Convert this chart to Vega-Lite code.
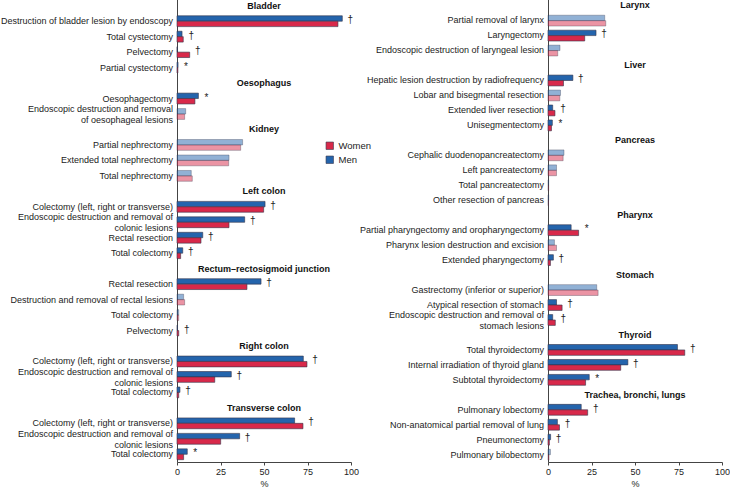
{
  "$schema": "https://vega.github.io/schema/vega-lite/v6.json",
  "padding": {"left": 0, "top": -2, "right": 0, "bottom": 0},
  "config": {
    "view": {"stroke": null},
    "font": "Liberation Sans",
    "axis": {"labelFont": "Liberation Sans", "titleFont": "Liberation Sans", "labelFontSize": 9, "titleFontSize": 9, "titleFontWeight": "normal", "labelColor": "#222", "titleColor": "#222", "domainColor": "#444", "tickColor": "#444", "grid": false, "labelFlush": false},
    "legend": {"labelFont": "Liberation Sans", "labelFontSize": 9.5, "labelColor": "#222"}
  },
  "datasets": {
    "left": [
      {"i": 0, "t": "Bladder"},
      {"i": 1, "lab": "Destruction of bladder lesion by endoscopy", "Men": 95.0, "Women": 92.5, "ns": false, "mk": "†"},
      {"i": 2, "lab": "Total cystectomy", "Men": 2.9, "Women": 3.6, "ns": false, "mk": "†"},
      {"i": 3, "lab": "Pelvectomy", "Men": 0.2, "Women": 7.3, "ns": false, "mk": "†"},
      {"i": 4, "lab": "Partial cystectomy", "Men": 0.6, "Women": 0.5, "ns": false, "mk": "*"},
      {"i": 5, "t": "Oesophagus"},
      {"i": 6, "lab": "Oesophagectomy", "Men": 12.3, "Women": 10.3, "ns": false, "mk": "*"},
      {"i": 7, "lab": "Endoscopic destruction and removal|of oesophageal lesions", "Men": 5.0, "Women": 4.4, "ns": true, "mk": ""},
      {"i": 8, "t": "Kidney"},
      {"i": 9, "lab": "Partial nephrectomy", "Men": 37.7, "Women": 36.6, "ns": true, "mk": ""},
      {"i": 10, "lab": "Extended total nephrectomy", "Men": 29.9, "Women": 29.7, "ns": true, "mk": ""},
      {"i": 11, "lab": "Total nephrectomy", "Men": 8.2, "Women": 8.8, "ns": true, "mk": ""},
      {"i": 12, "t": "Left colon"},
      {"i": 13, "lab": "Colectomy (left, right or transverse)", "Men": 50.6, "Women": 49.8, "ns": false, "mk": "†"},
      {"i": 14, "lab": "Endoscopic destruction and removal of|colonic lesions", "Men": 38.9, "Women": 29.9, "ns": false, "mk": "†"},
      {"i": 15, "lab": "Rectal resection", "Men": 14.8, "Women": 13.8, "ns": false, "mk": "†"},
      {"i": 16, "lab": "Total colectomy", "Men": 3.3, "Women": 2.1, "ns": false, "mk": "†"},
      {"i": 17, "t": "Rectum–rectosigmoid junction"},
      {"i": 18, "lab": "Rectal resection", "Men": 48.3, "Women": 40.2, "ns": false, "mk": "†"},
      {"i": 19, "lab": "Destruction and removal of rectal lesions", "Men": 3.8, "Women": 4.4, "ns": true, "mk": ""},
      {"i": 20, "lab": "Total colectomy", "Men": 1.0, "Women": 1.0, "ns": true, "mk": ""},
      {"i": 21, "lab": "Pelvectomy", "Men": 0.3, "Women": 1.0, "ns": false, "mk": "†"},
      {"i": 22, "t": "Right colon"},
      {"i": 23, "lab": "Colectomy (left, right or transverse)", "Men": 72.6, "Women": 74.7, "ns": false, "mk": "†"},
      {"i": 24, "lab": "Endoscopic destruction and removal of|colonic lesions", "Men": 31.2, "Women": 21.7, "ns": false, "mk": "†"},
      {"i": 25, "lab": "Total colectomy", "Men": 1.7, "Women": 1.0, "ns": false, "mk": "†"},
      {"i": 26, "t": "Transverse colon"},
      {"i": 27, "lab": "Colectomy (left, right or transverse)", "Men": 67.6, "Women": 72.4, "ns": false, "mk": "†"},
      {"i": 28, "lab": "Endoscopic destruction and removal of|colonic lesions", "Men": 36.0, "Women": 25.1, "ns": false, "mk": "†"},
      {"i": 29, "lab": "Total colectomy", "Men": 5.9, "Women": 3.8, "ns": false, "mk": "*"}
    ],
    "right": [
      {"i": 0, "t": "Larynx"},
      {"i": 1, "lab": "Partial removal of larynx", "Men": 32.6, "Women": 33.2, "ns": true, "mk": ""},
      {"i": 2, "lab": "Laryngectomy", "Men": 27.6, "Women": 21.1, "ns": false, "mk": "†"},
      {"i": 3, "lab": "Endoscopic destruction of laryngeal lesion", "Men": 6.9, "Women": 5.6, "ns": true, "mk": ""},
      {"i": 4, "t": "Liver"},
      {"i": 5, "lab": "Hepatic lesion destruction by radiofrequency", "Men": 14.3, "Women": 8.9, "ns": false, "mk": "†"},
      {"i": 6, "lab": "Lobar and bisegmental resection", "Men": 7.2, "Women": 6.8, "ns": true, "mk": ""},
      {"i": 7, "lab": "Extended liver resection", "Men": 2.7, "Women": 4.0, "ns": false, "mk": "†"},
      {"i": 8, "lab": "Unisegmentectomy", "Men": 2.5, "Women": 2.0, "ns": false, "mk": "*"},
      {"i": 9, "t": "Pancreas"},
      {"i": 10, "lab": "Cephalic duodenopancreatectomy", "Men": 9.2, "Women": 8.7, "ns": true, "mk": ""},
      {"i": 11, "lab": "Left pancreatectomy", "Men": 4.9, "Women": 4.9, "ns": true, "mk": ""},
      {"i": 12, "lab": "Total pancreatectomy", "Men": 0.4, "Women": 0.4, "ns": true, "mk": ""},
      {"i": 13, "lab": "Other resection of pancreas", "Men": 0.4, "Women": 0.3, "ns": true, "mk": ""},
      {"i": 14, "t": "Pharynx"},
      {"i": 15, "lab": "Partial pharyngectomy and oropharyngectomy", "Men": 13.3, "Women": 17.6, "ns": false, "mk": "*"},
      {"i": 16, "lab": "Pharynx lesion destruction and excision", "Men": 3.7, "Women": 4.9, "ns": true, "mk": ""},
      {"i": 17, "lab": "Extended pharyngectomy", "Men": 3.1, "Women": 1.4, "ns": false, "mk": "†"},
      {"i": 18, "t": "Stomach"},
      {"i": 19, "lab": "Gastrectomy (inferior or superior)", "Men": 28.0, "Women": 28.8, "ns": true, "mk": ""},
      {"i": 20, "lab": "Atypical resection of stomach", "Men": 4.9, "Women": 8.1, "ns": false, "mk": "†"},
      {"i": 21, "lab": "Endoscopic destruction and removal of|stomach lesions", "Men": 2.7, "Women": 4.2, "ns": false, "mk": "†"},
      {"i": 22, "t": "Thyroid"},
      {"i": 23, "lab": "Total thyroidectomy", "Men": 74.4, "Women": 78.6, "ns": false, "mk": "†"},
      {"i": 24, "lab": "Internal irradiation of thyroid gland", "Men": 45.9, "Women": 41.8, "ns": false, "mk": "†"},
      {"i": 25, "lab": "Subtotal thyroidectomy", "Men": 23.7, "Women": 21.6, "ns": false, "mk": "*"},
      {"i": 26, "t": "Trachea, bronchi, lungs"},
      {"i": 27, "lab": "Pulmonary lobectomy", "Men": 19.1, "Women": 22.8, "ns": false, "mk": "†"},
      {"i": 28, "lab": "Non-anatomical partial removal of lung", "Men": 5.4, "Women": 6.6, "ns": false, "mk": "†"},
      {"i": 29, "lab": "Pneumonectomy", "Men": 1.5, "Women": 0.8, "ns": false, "mk": "†"},
      {"i": 30, "lab": "Pulmonary bilobectomy", "Men": 1.4, "Women": 0.6, "ns": true, "mk": ""}
    ]
  },
  "spacing": 0,
  "hconcat": [
    {
      "width": 174, "height": 464,
      "data": {"name": "left"},
      "encoding": {"y": {"field": "i", "type": "ordinal", "scale": {"paddingInner": 0.3, "paddingOuter": 0.15}, "axis": {"labels": false, "ticks": false, "title": null, "domain": true}}},
      "layer": [
        {
          "transform": [{"filter": "datum.lab"}, {"fold": ["Men", "Women"], "as": ["key", "value"]}],
          "mark": {"type": "bar", "stroke": "#34344a", "strokeWidth": 0.6},
          "encoding": {
            "x": {"field": "value", "type": "quantitative", "title": "%", "scale": {"domain": [0, 100]}, "axis": {"values": [0, 25, 50, 75, 100], "tickSize": 3, "labelPadding": 2, "titlePadding": 3}},
            "yOffset": {"field": "key", "type": "nominal", "sort": ["Men", "Women"]},
            "color": {"field": "key", "type": "nominal", "scale": {"domain": ["Women", "Men"], "range": ["#d8294a", "#2464ac"]}, "legend": {"orient": "none", "legendX": 148, "legendY": 143, "title": null, "symbolType": "square", "symbolSize": 55, "symbolStrokeColor": "#333", "symbolStrokeWidth": 0.6, "rowPadding": 3}},
            "fillOpacity": {"condition": {"test": "datum.ns", "value": 0.5}, "value": 1},
            "strokeOpacity": {"condition": {"test": "datum.ns", "value": 0.55}, "value": 1}
          }
        },
        {
          "transform": [{"filter": "datum.lab && !test(/[|]/, datum.lab)"}],
          "mark": {"type": "text", "align": "right", "baseline": "middle", "dx": -4, "fontSize": 9, "color": "#222"},
          "encoding": {"x": {"datum": 0}, "text": {"field": "lab"}}
        },
        {
          "transform": [{"filter": "datum.lab && test(/[|]/, datum.lab)"}],
          "mark": {"type": "text", "align": "right", "baseline": "middle", "dx": -4, "dy": -5, "fontSize": 9, "lineBreak": "|", "lineHeight": 11, "color": "#222"},
          "encoding": {"x": {"datum": 0}, "text": {"field": "lab"}}
        },
        {
          "transform": [{"filter": "datum.t"}],
          "mark": {"type": "text", "align": "center", "baseline": "middle", "fontSize": 9, "fontWeight": "bold", "color": "#111"},
          "encoding": {"x": {"datum": 50}, "text": {"field": "t"}}
        },
        {
          "transform": [{"filter": "datum.lab"}, {"fold": ["Men", "Women"], "as": ["key", "value"]}, {"joinaggregate": [{"op": "max", "field": "value", "as": "mx"}], "groupby": ["i"]}, {"filter": "datum.key == 'Men' && datum.mk != ''"}],
          "mark": {"type": "text", "align": "center", "baseline": "middle", "dx": 8, "dy": -1, "fontSize": 10, "color": "#222"},
          "encoding": {"x": {"field": "mx", "type": "quantitative", "title": "%"}, "text": {"field": "mk"}}
        }
      ]
    },
    {
      "width": 174, "height": 464,
      "data": {"name": "right"},
      "encoding": {"y": {"field": "i", "type": "ordinal", "scale": {"paddingInner": 0.3, "paddingOuter": 0.15}, "axis": {"labels": false, "ticks": false, "title": null, "domain": true}}},
      "layer": [
        {
          "transform": [{"filter": "datum.lab"}, {"fold": ["Men", "Women"], "as": ["key", "value"]}],
          "mark": {"type": "bar", "stroke": "#34344a", "strokeWidth": 0.6},
          "encoding": {
            "x": {"field": "value", "type": "quantitative", "title": "%", "scale": {"domain": [0, 100]}, "axis": {"values": [0, 25, 50, 75, 100], "tickSize": 3, "labelPadding": 2, "titlePadding": 3}},
            "yOffset": {"field": "key", "type": "nominal", "sort": ["Men", "Women"]},
            "color": {"field": "key", "type": "nominal", "scale": {"domain": ["Women", "Men"], "range": ["#d8294a", "#2464ac"]}},
            "fillOpacity": {"condition": {"test": "datum.ns", "value": 0.5}, "value": 1},
            "strokeOpacity": {"condition": {"test": "datum.ns", "value": 0.55}, "value": 1}
          }
        },
        {
          "transform": [{"filter": "datum.lab && !test(/[|]/, datum.lab)"}],
          "mark": {"type": "text", "align": "right", "baseline": "middle", "dx": -4, "fontSize": 9, "color": "#222"},
          "encoding": {"x": {"datum": 0}, "text": {"field": "lab"}}
        },
        {
          "transform": [{"filter": "datum.lab && test(/[|]/, datum.lab)"}],
          "mark": {"type": "text", "align": "right", "baseline": "middle", "dx": -4, "dy": -5, "fontSize": 9, "lineBreak": "|", "lineHeight": 11, "color": "#222"},
          "encoding": {"x": {"datum": 0}, "text": {"field": "lab"}}
        },
        {
          "transform": [{"filter": "datum.t"}],
          "mark": {"type": "text", "align": "center", "baseline": "middle", "fontSize": 9, "fontWeight": "bold", "color": "#111"},
          "encoding": {"x": {"datum": 50}, "text": {"field": "t"}}
        },
        {
          "transform": [{"filter": "datum.lab"}, {"fold": ["Men", "Women"], "as": ["key", "value"]}, {"joinaggregate": [{"op": "max", "field": "value", "as": "mx"}], "groupby": ["i"]}, {"filter": "datum.key == 'Men' && datum.mk != ''"}],
          "mark": {"type": "text", "align": "center", "baseline": "middle", "dx": 8, "dy": -1, "fontSize": 10, "color": "#222"},
          "encoding": {"x": {"field": "mx", "type": "quantitative", "title": "%"}, "text": {"field": "mk"}}
        }
      ]
    }
  ],
  "resolve": {"scale": {"color": "shared"}}
}
